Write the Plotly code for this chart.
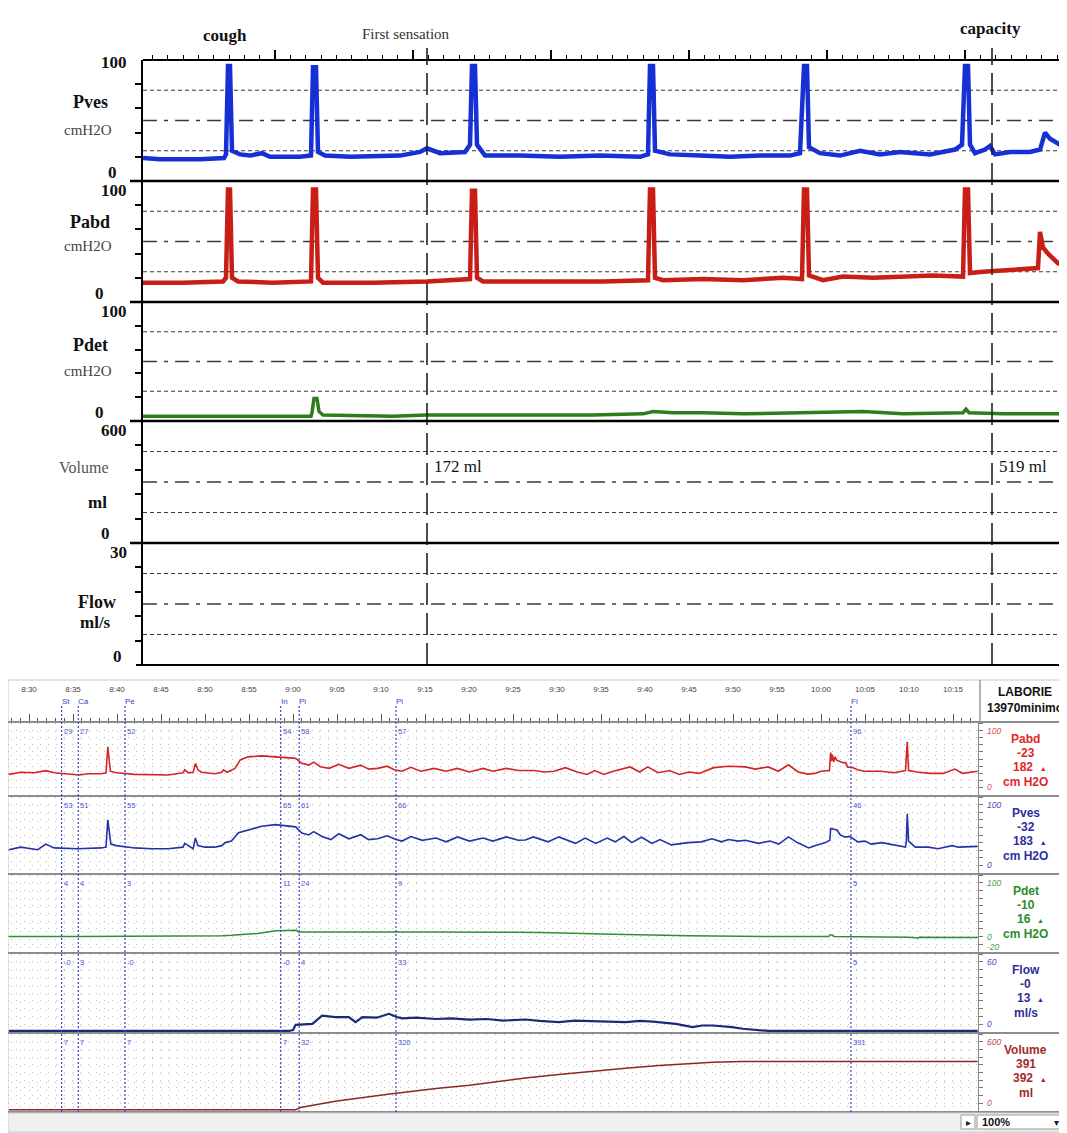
import plotly.graph_objects as go

# page is drawn inside the default 8px body margin
OX, OY = 8, 8
W, H = 1059, 1125


def px(x):
    return (x - OX) / W


def py(y):
    return 1 - (y - OY) / H


SERIF = "Liberation Serif"
SANS = "Liberation Sans"

# ======================= DATA: upper tracing (arbitrary time units) =======================
top_pves = [(0, 19), (17, 18), (57, 18), (81, 19), (83, 22), (85, 95), (87, 95), (89, 25), (97, 22),
            (107, 21), (119, 23), (127, 20), (157, 20), (168, 21), (170, 94), (173, 94), (175, 24),
            (182, 21), (207, 20), (257, 21), (277, 24), (284, 27), (297, 23), (322, 24), (327, 30),
            (329, 95), (332, 95), (334, 30), (342, 21), (377, 21), (417, 20), (457, 21), (497, 20),
            (505, 22), (507, 95), (510, 95), (512, 25), (527, 22), (557, 21), (587, 20), (617, 21),
            (647, 21), (657, 23), (661, 95), (664, 95), (666, 28), (677, 23), (697, 21), (717, 25),
            (737, 22), (757, 24), (787, 22), (812, 26), (819, 30), (822, 95), (825, 95), (827, 30),
            (832, 23), (842, 26), (847, 29), (852, 22), (867, 24), (887, 24), (897, 26), (902, 40),
            (907, 35), (917, 30), (924, 28)]
top_pabd = [(0, 16), (40, 16), (80, 17), (83, 20), (85, 93), (87, 93), (89, 20), (95, 17), (130, 16),
            (168, 17), (170, 93), (173, 93), (175, 20), (180, 16), (230, 16), (284, 17), (327, 19),
            (329, 92), (332, 92), (334, 20), (340, 17), (400, 17), (460, 17), (505, 18), (507, 93),
            (510, 93), (512, 20), (520, 18), (560, 19), (600, 18), (640, 20), (659, 19), (661, 93),
            (664, 93), (666, 22), (680, 18), (700, 21), (730, 20), (760, 21), (790, 22), (820, 21),
            (822, 93), (825, 93), (827, 24), (840, 25), (860, 26), (880, 27), (895, 28), (897, 58),
            (900, 45), (905, 40), (915, 32), (924, 30)]
top_pdet = [(0, 4), (100, 4), (168, 4), (169, 7), (171, 19), (174, 19), (176, 8), (180, 5), (250, 4),
            (284, 5), (350, 5), (450, 5), (500, 6), (510, 8), (530, 7), (560, 7), (600, 6), (660, 7),
            (680, 8), (720, 8), (760, 6), (820, 7), (823, 10), (826, 7), (860, 6), (900, 6), (924, 6)]
top_events_t = [284, 849]                       # first sensation, capacity
top_event_volumes = ["172 ml", "519 ml"]
top_rows = ["Pves", "Pabd", "Pdet", "Volume", "Flow"]
top_units = ["cmH2O", "cmH2O", "cmH2O", "ml", "ml/s"]
top_max = [100, 100, 100, 600, 30]

# ======================= DATA: lower tracing (minutes after 8:00) =======================
time_ticks = list(range(30, 136, 5))
time_labels = ["8:30", "8:35", "8:40", "8:45", "8:50", "8:55", "9:00", "9:05", "9:10", "9:15", "9:20",
               "9:25", "9:30", "9:35", "9:40", "9:45", "9:50", "9:55", "10:00", "10:05", "10:10", "10:15"]
marker_t = [33.7, 35.6, 40.9, 58.6, 60.7, 71.7, 123.4]
marker_names = ["St", "Ca", "Pe", "In", "Pi", "Pi", "Fi"]
marker_pabd = ["29", "27", "52", "54", "58", "57", "96"]
marker_pves = ["53", "51", "55", "65", "61", "66", "46"]
marker_pdet = ["4", "4", "3", "11", "24", "9", "5"]
marker_flow = ["-0", "3", "-0", "-0", "4", "33", "5"]
marker_vol = ["7", "7", "7", "7", "32", "320", "391"]

pabd = [(27.7, 28.6), (29.05, 31.6), (30.6, 30.8), (31.9, 33.8), (32.85, 30.8), (34.75, 29.5), (35.7, 27.8),
        (36.7, 29.5), (38.2, 29.5), (38.75, 30.8), (38.95, 67), (39.25, 33), (39.9, 30.8), (42.0, 28.6),
        (43.9, 28.6), (45.8, 27.8), (47.5, 30.8), (47.7, 35), (48.1, 30.8), (48.65, 31.6), (48.9, 43.6),
        (49.2, 35), (49.6, 31.6), (50.4, 30.8), (51.1, 29.5), (51.9, 31.6), (52.1, 35), (52.5, 31.6),
        (53.4, 37), (54.0, 48.7), (54.9, 53), (56.45, 54.3), (58.0, 53), (59.5, 52), (60.3, 50.9),
        (61.0, 44), (61.8, 41.5), (62.35, 45.7), (63.1, 39.3), (64.1, 37), (65.2, 42.7), (66.35, 37),
        (67.7, 41.5), (68.6, 35.9), (69.6, 37), (70.7, 40), (71.5, 35), (72.4, 33), (73.4, 38.5),
        (74.5, 33), (76.05, 37), (77.4, 33), (78.7, 37), (80.05, 32), (81.6, 37), (82.7, 33), (84.25, 37),
        (85.6, 34), (87.4, 34), (88.5, 32), (89.65, 33), (90.95, 38), (92.3, 32), (93.4, 28.5), (94.3, 34),
        (95.3, 28.5), (96.4, 33), (98.3, 39), (99.4, 32), (100.3, 39), (101.5, 31), (102.8, 34),
        (103.9, 28.5), (105.0, 32), (106.15, 30), (107.8, 38), (109.5, 40), (111.4, 39), (112.5, 36),
        (114.0, 39), (115.15, 33), (116.3, 42), (117.4, 32), (118.5, 29), (119.3, 30), (120.0, 33),
        (120.95, 34), (121.1, 59), (121.2, 47), (121.3, 56), (121.45, 46), (121.6, 53), (121.8, 48),
        (122.1, 47), (122.45, 45), (122.8, 45), (123.0, 39), (123.6, 38), (124.15, 35), (124.9, 33),
        (126.8, 33), (128.3, 31), (129.6, 34), (129.8, 74), (129.95, 34), (130.9, 32), (132.4, 30),
        (133.9, 30), (135.2, 36), (136.1, 30), (137.8, 33)]
pves = [(27.7, 30.6), (29.05, 34), (31.0, 30.6), (31.9, 38), (32.85, 33), (35.5, 32), (38.2, 33),
        (38.75, 34), (38.95, 70), (39.3, 38), (39.9, 36), (42.0, 33), (43.9, 32), (45.8, 32), (47.5, 34),
        (47.7, 39), (48.65, 32), (48.9, 46), (49.2, 36), (50.0, 34), (51.1, 34), (51.9, 36), (52.3, 40),
        (53.0, 42), (53.8, 53), (54.9, 57), (56.45, 61.6), (58.0, 63.6), (59.5, 62), (60.3, 60.7),
        (61.0, 52.5), (61.8, 50), (62.35, 54.5), (63.3, 48), (64.3, 44), (65.2, 51.6), (66.35, 45),
        (67.7, 50.4), (68.6, 44), (69.6, 45), (70.7, 49), (71.7, 44), (72.4, 42), (73.4, 48), (74.7, 43),
        (76.25, 46), (77.4, 41), (78.7, 47.5), (80.05, 42), (81.6, 46), (82.7, 42), (84.25, 47.5),
        (85.6, 43), (86.4, 43.4), (87.3, 47.5), (89.0, 41), (90.2, 47.5), (92.1, 39), (93.2, 46),
        (94.4, 39), (95.7, 46), (96.6, 41), (97.6, 48), (98.5, 40), (99.6, 47), (100.8, 39), (101.7, 44),
        (103.0, 37), (104.9, 40), (106.4, 41), (107.6, 45), (108.7, 41), (109.5, 44), (110.6, 42),
        (111.4, 43), (112.9, 39), (114.2, 42), (115.2, 38), (116.3, 47.5), (117.3, 40), (118.6, 33),
        (119.3, 36), (120.5, 40), (121.0, 43), (121.1, 58.7), (121.8, 56.6), (122.2, 50), (122.7, 47.5),
        (123.3, 48), (124.2, 41), (125.0, 42), (125.7, 38), (126.9, 40), (128.4, 37), (129.6, 34),
        (129.7, 42), (129.8, 78), (129.95, 42), (130.7, 34), (132.2, 34), (133.3, 32), (134.9, 36),
        (135.6, 34), (137.8, 35)]
pdet = [(27.7, 4), (30, 4.5), (33, 4), (36, 4.3), (40, 4.5), (43, 4.2), (45, 4.5), (48, 4.8), (50, 5),
        (52, 5.5), (53, 6), (55, 8), (56, 9), (58, 13), (60.4, 14), (60.6, 11), (63, 11.2), (65, 11),
        (68, 11.3), (70, 11), (73, 11.2), (75, 11), (78, 11.2), (80, 11), (83, 10.6), (85, 10.8), (88, 10.3),
        (90, 10), (93, 9), (95, 8), (98, 7), (100, 6.5), (103, 6), (105, 5.5), (108, 5), (110, 4.5),
        (113, 4.3), (115, 4), (118, 4.2), (120.9, 4), (121.0, 6.5), (121.3, 6.5), (121.5, 4), (125, 3),
        (127, 3.2), (130, 3), (131, 2), (131.2, 3), (134, 2.7), (137.8, 2.5)]
flow = [(27.7, 0.8), (59.5, 0.8), (60.0, 1.5), (60.3, 5.5), (62.2, 6.3), (63.3, 12.6), (64.8, 11.5),
        (66.35, 11.4), (67.1, 7.6), (67.9, 11.5), (69.5, 11.0), (70.9, 14.0), (71.8, 11.5), (72.4, 10.5),
        (74.0, 11.0), (76.25, 10.0), (78.0, 10.5), (80.05, 9.5), (82.0, 10.0), (83.9, 8.8), (86.4, 9.6),
        (88.0, 8.5), (90.2, 7.6), (92.0, 8.8), (93.9, 8.4), (96.0, 7.8), (97.8, 7.6), (99.5, 8.5),
        (100.9, 8.0), (103.5, 6.3), (105.4, 3.8), (106.5, 5.0), (107.7, 5.0), (109.9, 3.8), (111.1, 2.5),
        (114.1, 0.8), (137.8, 0.8)]
volume = [(27.7, 10), (60.3, 10), (61.0, 30), (64.8, 76), (71.0, 132), (76.25, 175), (80.05, 200),
          (86.4, 258), (90.2, 284), (93.9, 309), (97.8, 334), (101.6, 354), (105.4, 372), (107.7, 380),
          (111.1, 386), (137.8, 386)]

ch_names = ["Pabd", "Pves", "Pdet", "Flow", "Volume"]
ch_current = ["-23", "-32", "-10", "-0", "391"]
ch_peak = ["182", "183", "16", "13", "392"]
ch_units = ["cm H2O", "cm H2O", "cm H2O", "ml/s", "ml"]
ch_ranges = [(0, 100), (0, 100), (-20, 100), (0, 60), (0, 600)]
device_name = ["LABORIE", "13970minimo"]

# ======================= FIGURE =======================
fig = go.Figure()


def xs(pairs):
    return [p[0] for p in pairs]


def ys(pairs):
    return [p[1] for p in pairs]


# --- upper tracing traces
fig.add_trace(go.Scatter(x=xs(top_pves), y=ys(top_pves), xaxis="x", yaxis="y", mode="lines",
                         line=dict(color="#1730d6", width=4.5), hoverinfo="skip"))
fig.add_trace(go.Scatter(x=xs(top_pabd), y=ys(top_pabd), xaxis="x", yaxis="y2", mode="lines",
                         line=dict(color="#c81e16", width=4.5), hoverinfo="skip"))
fig.add_trace(go.Scatter(x=xs(top_pdet), y=ys(top_pdet), xaxis="x", yaxis="y3", mode="lines",
                         line=dict(color="#2e7d1c", width=3.5), hoverinfo="skip"))
fig.add_trace(go.Scatter(x=[], y=[], xaxis="x", yaxis="y4", mode="lines", hoverinfo="skip"))
fig.add_trace(go.Scatter(x=[], y=[], xaxis="x", yaxis="y5", mode="lines", hoverinfo="skip"))

# --- lower tracing traces
low_series = [(pabd, "#d42424", 1.6), (pves, "#2332a8", 1.6), (pdet, "#2f8f2f", 1.5),
              (flow, "#1e2878", 2.2), (volume, "#8c2626", 1.5)]
for i, (ser, col, wd) in enumerate(low_series):
    fig.add_trace(go.Scatter(x=xs(ser), y=ys(ser), xaxis="x2", yaxis="y%d" % (6 + i), mode="lines",
                             line=dict(color=col, width=wd), hoverinfo="skip"))

# ======================= AXES =======================
top_bounds = [60, 181, 302, 421, 543, 665]
low_bounds = [722, 796, 874, 953, 1033, 1112]

layout = dict(
    width=W, height=H, margin=dict(l=0, r=0, t=0, b=0), showlegend=False,
    paper_bgcolor="white", plot_bgcolor="white",
)
layout["xaxis"] = dict(
    domain=[px(143), 1], range=[0, 924], anchor="free", position=py(60), side="top",
    showline=True, linecolor="black", linewidth=1.5, showgrid=False, zeroline=False,
    showticklabels=False, ticks="outside", tickmode="linear", tick0=132, dtick=138,
    ticklen=9, tickwidth=1.5, tickcolor="black",
    minor=dict(tickmode="linear", tick0=132, dtick=138 / 9, ticks="outside", ticklen=4,
               tickwidth=1, tickcolor="black", showgrid=False),
)
for i in range(5):
    name = "yaxis" if i == 0 else "yaxis%d" % (i + 1)
    mx = top_max[i]
    layout[name] = dict(
        domain=[py(top_bounds[i + 1]), py(top_bounds[i])], range=[0, mx], anchor="x", side="left",
        showline=True, linecolor="black", linewidth=2, showgrid=False, zeroline=False,
        ticks="outside", tickvals=[mx * k / 5 for k in range(1, 5)], ticklen=6, tickwidth=1.5,
        tickcolor="black", showticklabels=False,
    )

layout["xaxis2"] = dict(
    domain=[px(8), px(978)], range=[27.61, 137.84], anchor="free", position=py(722), side="top",
    showline=False, zeroline=False, tickmode="array", tickvals=time_ticks, ticktext=time_labels,
    ticks="outside", ticklen=8, tickwidth=1, tickcolor="#555",
    tickfont=dict(family=SANS, size=8, color="#444"), ticklabelstandoff=19,
    showgrid=True, gridcolor="#bdbdbd", griddash="1px,7px", gridwidth=1,
    minor=dict(tickmode="linear", tick0=30, dtick=1, ticks="outside", ticklen=4, tickwidth=1,
               tickcolor="#555", showgrid=True, gridcolor="#bdbdbd", griddash="1px,7px", gridwidth=1),
)
for i in range(5):
    lo, hi = ch_ranges[i]
    layout["yaxis%d" % (6 + i)] = dict(
        domain=[py(low_bounds[i + 1] - 1), py(low_bounds[i] + 1)], range=[lo, hi], anchor="x2",
        side="right", showline=True, linecolor="#888", linewidth=1, zeroline=False,
        showticklabels=False, ticks="outside", ticklen=4, tickcolor="#777", tickmode="linear",
        tick0=lo, dtick=(hi - lo) / 10, showgrid=True, gridcolor="#bdbdbd", griddash="1px,7px",
    )
fig.update_layout(**layout)

# ======================= SHAPES =======================
shapes = []
# dashed reference lines in upper tracing
for i in range(5):
    yr = "y" if i == 0 else "y%d" % (i + 1)
    mx = top_max[i]
    for frac, dash, wd in [(0.25, "4px,3px", 1.2), (0.5, "14px,7px,4px,7px", 1.5), (0.75, "4px,3px", 1.2)]:
        shapes.append(dict(type="line", xref="x domain", yref=yr, x0=0, x1=1, y0=mx * frac, y1=mx * frac,
                           line=dict(color="#3a3a3a", width=wd, dash=dash), layer="below"))
# event lines
for t in top_events_t:
    shapes.append(dict(type="line", xref="x", yref="paper", x0=t, x1=t, y0=py(665), y1=py(48),
                       line=dict(color="#222", width=1.6, dash="22px,8px")))
# row separators (upper)
for b in top_bounds[1:5]:
    shapes.append(dict(type="line", xref="paper", yref="paper", x0=px(130), x1=1, y0=py(b), y1=py(b),
                       line=dict(color="black", width=2.5)))
shapes.append(dict(type="line", xref="paper", yref="paper", x0=px(136), x1=1, y0=py(665), y1=py(665),
                   line=dict(color="black", width=2)))

# lower screenshot frame
shapes.append(dict(type="rect", xref="paper", yref="paper", x0=px(8), x1=1, y0=py(1132), y1=py(680),
                   line=dict(color="#c8c8c8", width=1), layer="below"))
for b in low_bounds:
    shapes.append(dict(type="line", xref="paper", yref="paper", x0=px(8), x1=1, y0=py(b), y1=py(b),
                       line=dict(color="#8d8d8d", width=2.2)))
shapes.append(dict(type="line", xref="paper", yref="paper", x0=px(980), x1=px(980), y0=py(722), y1=py(680),
                   line=dict(color="#9a9a9a", width=1.5)))
# marker lines
for t in marker_t:
    shapes.append(dict(type="line", xref="x2", yref="paper", x0=t, x1=t, y0=py(1112), y1=py(706),
                       line=dict(color="#3646c8", width=1.2, dash="2px,2px")))
# bottom status bar
shapes.append(dict(type="rect", xref="paper", yref="paper", x0=px(8), x1=1, y0=py(1132), y1=py(1113),
                   fillcolor="#efefef", line=dict(color="#cfcfcf", width=1)))
shapes.append(dict(type="rect", xref="paper", yref="paper", x0=px(961), x1=px(975), y0=py(1129), y1=py(1115),
                   fillcolor="white", line=dict(color="#999", width=1)))
shapes.append(dict(type="rect", xref="paper", yref="paper", x0=px(977), x1=px(1064), y0=py(1129), y1=py(1115),
                   fillcolor="white", line=dict(color="#999", width=1)))
fig.update_layout(shapes=shapes)

# ======================= ANNOTATIONS =======================
ann = []


def A(x, y, text, size=12, color="#000", family=SANS, xanchor="center", yanchor="middle",
      xref="paper", yref="paper", **kw):
    d = dict(x=x, y=y, text=text, showarrow=False, xanchor=xanchor, yanchor=yanchor, xref=xref, yref=yref,
             font=dict(size=size, color=color, family=family))
    d.update(kw)
    return d


# upper title events
ann.append(A(px(225), py(36), "<b>cough</b>", 17, "#111", SERIF))
ann.append(A(px(406), py(34), "First sensation", 15, "#333", SERIF))
ann.append(A(px(990), py(28), "<b>capacity</b>", 17, "#111", SERIF))
for t, txt in zip(top_events_t, top_event_volumes):
    ann.append(A(t, py(466), txt, 17, "#111", SERIF, xanchor="left", xref="x", xshift=5))

# upper left labels
name_pos = [(90, 102, 130), (90, 222, 246), (90, 345, 371), (83, 468, 502), (97, 602, 622)]
zero_x = [119, 106, 106, 112, 124]
for i in range(5):
    top_y, bot_y = top_bounds[i], top_bounds[i + 1]
    top_txt_y = top_y + (2 if i == 0 else 9)
    ann.append(A(px(129), py(top_txt_y), "<b>%d</b>" % top_max[i], 17, "#111", SERIF, xanchor="right"))
    ann.append(A(px(zero_x[i]), py(bot_y - 9), "<b>0</b>", 17, "#111", SERIF, xanchor="right"))
    nx, ny, uy = name_pos[i]
    if top_rows[i] == "Volume":
        ann.append(A(px(nx), py(ny), "Volume", 16, "#555", SERIF))
        ann.append(A(px(nx + 14), py(uy), "<b>ml</b>", 17, "#111", SERIF))
    elif top_rows[i] == "Flow":
        ann.append(A(px(nx), py(ny), "<b>Flow</b>", 18, "#111", SERIF))
        ann.append(A(px(nx - 2), py(uy), "<b>ml/s</b>", 17, "#111", SERIF))
    else:
        ann.append(A(px(nx), py(ny), "<b>%s</b>" % top_rows[i], 18, "#111", SERIF))
        ann.append(A(px(nx - 2), py(uy), top_units[i], 15, "#444", SERIF))

# lower: header
ann.append(A(px(1025), py(692), "<b>LABORIE</b>", 12, "#111", SANS))
ann.append(A(px(985), py(708), "<b>%s</b>" % device_name[1], 12, "#111", SANS, xanchor="left"))
for t, nm in zip(marker_t, marker_names):
    ann.append(A(t, py(701), nm, 8, "#3646c8", SANS, xanchor="left", xref="x2", xshift=-2))

# marker values at top of each channel
marker_vals = [marker_pabd, marker_pves, marker_pdet, marker_flow, marker_vol]
for i in range(5):
    lo, hi = ch_ranges[i]
    for t, v in zip(marker_t, marker_vals[i]):
        ann.append(A(t, hi, v, 7.5, "#4858d4", SANS, xanchor="left", yanchor="top", xref="x2",
                     yref="y%d" % (6 + i), xshift=0, yshift=-2))

# right label column
ch_colors = ["#e02828", "#2c2fa0", "#2b8c2b", "#2e2f96", "#a32a2a"]
ch_range_colors = ["#e05050", "#4a4ab8", "#4aa04a", "#4a4ab8", "#b84a4a"]
for i in range(5):
    lo, hi = ch_ranges[i]
    top_y = low_bounds[i]
    yr = "y%d" % (6 + i)
    col = ch_colors[i]
    ann.append(A(px(985), hi, "<i>%d</i>" % hi, 8.5, ch_range_colors[i], SANS, xanchor="left", yanchor="top",
                 yref=yr, yshift=-1))
    ann.append(A(px(985), lo, "<i>%d</i>" % lo, 8.5, ch_range_colors[i], SANS, xanchor="left",
                 yanchor="bottom", yref=yr, yshift=-2 if lo < 0 else 1))
    if lo < 0:
        ann.append(A(px(985), 0, "<i>0</i>", 8.5, ch_range_colors[i], SANS, xanchor="left", yanchor="middle",
                     yref=yr, yshift=2))
    ann.append(A(px(1026), py(top_y + 17), "<b>%s</b>" % ch_names[i], 12, col, SANS))
    ann.append(A(px(1026), py(top_y + 31), "<b>%s</b>" % ch_current[i], 12, col, SANS))
    ann.append(A(px(1030), py(top_y + 45),
                 "<b>%s</b>  <span style='font-size:7px'>▲</span>" % ch_peak[i], 12, col, SANS))
    ann.append(A(px(1026), py(top_y + 60), "<b>%s</b>" % ch_units[i], 12, col, SANS))

# status bar
ann.append(A(px(968), py(1122), "▸", 10, "#222", SANS))
ann.append(A(px(980), py(1122), "<b>100%</b>", 11, "#111", SANS, xanchor="left"))
ann.append(A(px(1056), py(1122), "▾", 10, "#222", SANS))

fig.update_layout(annotations=ann)

fig.write_html("out.html")
